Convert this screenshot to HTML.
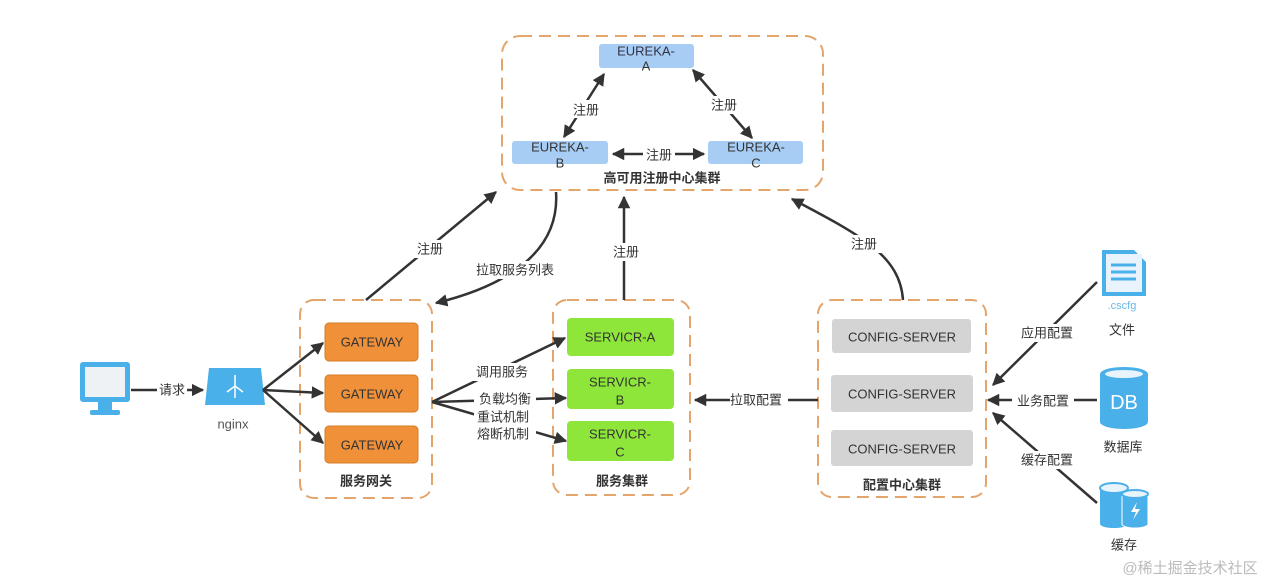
<!DOCTYPE html>
<html><head><meta charset="utf-8"><style>
html,body{margin:0;padding:0;background:#fff;}
svg{display:block;}
text{font-family:"Liberation Sans","Noto Sans CJK SC",sans-serif;fill:#333;}
.lbl{font-size:13px;text-anchor:middle;dominant-baseline:central;}
.b{font-weight:bold;}
</style></head><body>
<svg width="1269" height="584" viewBox="0 0 1269 584" xmlns="http://www.w3.org/2000/svg">
<defs>
<marker id="ah" viewBox="0 0 10 10" refX="9" refY="5" markerWidth="5" markerHeight="5" orient="auto-start-reverse"><path d="M0,0 L10,5 L0,10 z" fill="#333"/></marker>
</defs>
<g fill="none" stroke="#e3a56c" stroke-width="2" stroke-dasharray="12,7">
<rect x="502" y="36" width="321" height="154" rx="18"/>
<rect x="300" y="300" width="132" height="198" rx="14"/>
<rect x="553" y="300" width="137" height="195" rx="14"/>
<rect x="818" y="300" width="168" height="197" rx="14"/>
</g>
<!-- eureka nodes -->
<g fill="#a8cdf5">
<rect x="599" y="44" width="95" height="24" rx="3"/>
<rect x="512" y="141" width="96" height="23" rx="3"/>
<rect x="708" y="141" width="95" height="23" rx="3"/>
</g>
<g class="lbl" style="font-size:13px">
<text class="lbl" x="646" y="51" style="fill:#334">EUREKA-</text><text class="lbl" x="646" y="66">A</text>
<text class="lbl" x="560" y="147">EUREKA-</text><text class="lbl" x="560" y="163">B</text>
<text class="lbl" x="756" y="147">EUREKA-</text><text class="lbl" x="756" y="163">C</text>
</g>
<text class="lbl b" x="662" y="178">高可用注册中心集群</text>
<g stroke="#333" stroke-width="2.5" fill="none">
<line x1="604" y1="74" x2="564" y2="137" marker-start="url(#ah)" marker-end="url(#ah)"/>
<line x1="693" y1="70" x2="752" y2="138" marker-start="url(#ah)" marker-end="url(#ah)"/>
<line x1="613" y1="154" x2="704" y2="154" marker-start="url(#ah)" marker-end="url(#ah)"/>
</g>
<rect x="570" y="100" width="32" height="18" fill="#fff"/>
<rect x="708" y="96" width="32" height="18" fill="#fff"/>
<rect x="643" y="146" width="32" height="18" fill="#fff"/>
<text class="lbl" x="586" y="110">注册</text>
<text class="lbl" x="724" y="105">注册</text>
<text class="lbl" x="659" y="155">注册</text>
<!-- gateway nodes -->
<g fill="#f0913a" stroke="#d67b27">
<rect x="325" y="323" width="93" height="38" rx="4"/>
<rect x="325" y="375" width="93" height="37" rx="4"/>
<rect x="325" y="426" width="93" height="37" rx="4"/>
</g>
<text class="lbl" x="372" y="342">GATEWAY</text>
<text class="lbl" x="372" y="394">GATEWAY</text>
<text class="lbl" x="372" y="445">GATEWAY</text>
<text class="lbl b" x="366" y="481">服务网关</text>
<!-- services -->
<g fill="#8fe63a">
<rect x="567" y="318" width="107" height="38" rx="4"/>
<rect x="567" y="369" width="107" height="40" rx="4"/>
<rect x="567" y="421" width="107" height="40" rx="4"/>
</g>
<text class="lbl" x="620" y="337">SERVICR-A</text>
<text class="lbl" x="620" y="382">SERVICR-</text><text class="lbl" x="620" y="400">B</text>
<text class="lbl" x="620" y="434">SERVICR-</text><text class="lbl" x="620" y="452">C</text>
<text class="lbl b" x="622" y="481">服务集群</text>
<!-- config -->
<g fill="#d4d4d4">
<rect x="832" y="319" width="139" height="34" rx="3"/>
<rect x="831" y="375" width="142" height="37" rx="3"/>
<rect x="831" y="430" width="142" height="36" rx="3"/>
</g>
<text class="lbl" x="902" y="337">CONFIG-SERVER</text>
<text class="lbl" x="902" y="394">CONFIG-SERVER</text>
<text class="lbl" x="902" y="449">CONFIG-SERVER</text>
<text class="lbl b" x="902" y="485">配置中心集群</text>
<!-- monitor -->
<rect x="80" y="362" width="50" height="40" rx="3" fill="#4ab0ea"/>
<rect x="85" y="367" width="40" height="30" fill="#eef2f5"/>
<rect x="98" y="402" width="14" height="8" fill="#4ab0ea"/>
<rect x="90" y="410" width="30" height="5" rx="2" fill="#4ab0ea"/>
<!-- nginx -->
<path d="M209,368 L261,368 L265,405 L205,405 z" fill="#4ab0ea"/>
<g stroke="#fff" stroke-width="1.5" fill="none"><line x1="235" y1="375" x2="235" y2="398"/><path d="M235,386 L227,392 M235,386 L243,392"/></g>
<text class="lbl" x="233" y="424" style="fill:#555">nginx</text>
<!-- arrows lower -->
<g stroke="#333" stroke-width="2.5" fill="none" marker-end="url(#ah)">
<line x1="131" y1="390" x2="203" y2="390"/>
<line x1="263" y1="390" x2="323" y2="343"/>
<line x1="263" y1="390" x2="323" y2="393"/>
<line x1="263" y1="390" x2="323" y2="443"/>
<line x1="432" y1="402" x2="565" y2="338"/>
<line x1="432" y1="402" x2="566" y2="398"/>
<line x1="432" y1="402" x2="566" y2="441"/>
<line x1="818" y1="400" x2="695" y2="400"/>
<line x1="366" y1="300" x2="496" y2="192"/>
<path d="M556,192 C560,250 510,285 436,303"/>
<line x1="624" y1="300" x2="624" y2="197"/>
<path d="M903,300 C900,255 860,235 792,199"/>
<line x1="1097" y1="282" x2="993" y2="385"/>
<line x1="1097" y1="400" x2="988" y2="400"/>
<line x1="1097" y1="503" x2="993" y2="413"/>
</g>
<g fill="#fff">
<rect x="157" y="381" width="30" height="18"/>
<rect x="472" y="363" width="62" height="18"/>
<rect x="474" y="390" width="62" height="52"/>
<rect x="730" y="391" width="58" height="18"/>
<rect x="412" y="240" width="36" height="18"/>
<rect x="472" y="261" width="88" height="18"/>
<rect x="608" y="243" width="36" height="18"/>
<rect x="847" y="235" width="36" height="18"/>
<rect x="1016" y="324" width="62" height="18"/>
<rect x="1012" y="392" width="62" height="18"/>
<rect x="1016" y="451" width="62" height="18"/>
</g>
<text class="lbl" x="172" y="390">请求</text>
<text class="lbl" x="502" y="372">调用服务</text>
<text class="lbl" x="505" y="399">负载均衡</text>
<text class="lbl" x="503" y="417">重试机制</text>
<text class="lbl" x="503" y="434">熔断机制</text>
<text class="lbl" x="756" y="400">拉取配置</text>
<text class="lbl" x="430" y="249">注册</text>
<text class="lbl" x="515" y="270">拉取服务列表</text>
<text class="lbl" x="626" y="252">注册</text>
<text class="lbl" x="864" y="244">注册</text>
<text class="lbl" x="1047" y="333">应用配置</text>
<text class="lbl" x="1043" y="401">业务配置</text>
<text class="lbl" x="1047" y="460">缓存配置</text>
<!-- file icon -->
<path d="M1102,250 L1134,250 L1146,262 L1146,296 L1102,296 z" fill="#4ab0ea"/>
<rect x="1106" y="254" width="36" height="38" fill="#e8f3fb"/>
<g stroke="#4ab0ea" stroke-width="3"><line x1="1111" y1="265" x2="1136" y2="265"/><line x1="1111" y1="272" x2="1136" y2="272"/><line x1="1111" y1="279" x2="1136" y2="279"/></g>
<text x="1122" y="309" style="font-size:11px;fill:#6ab8e8" text-anchor="middle">.cscfg</text>
<text class="lbl" x="1122" y="330">文件</text>
<!-- DB -->
<path d="M1100,374 L1100,422 A24,7 0 0 0 1148,422 L1148,374 z" fill="#4ab0ea"/>
<ellipse cx="1124" cy="374" rx="24" ry="7" fill="#4ab0ea"/>
<ellipse cx="1124" cy="374" rx="19" ry="4" fill="#e8f3fb"/>
<text x="1124" y="409" text-anchor="middle" style="font-size:20px;fill:#fff">DB</text>
<text class="lbl" x="1123" y="447">数据库</text>
<!-- cache -->
<path d="M1100,488 L1100,524 A14,4 0 0 0 1128,524 L1128,488 z" fill="#4ab0ea"/>
<ellipse cx="1114" cy="488" rx="14" ry="5" fill="#e8f3fb" stroke="#4ab0ea" stroke-width="2"/>
<path d="M1122,494 L1122,524 A13,4 0 0 0 1148,524 L1148,494 z" fill="#4ab0ea" stroke="#fff"/>
<ellipse cx="1135" cy="494" rx="13" ry="4" fill="#e8f3fb" stroke="#4ab0ea" stroke-width="2"/>
<path d="M1137,502 L1131,512 L1136,512 L1133,520 L1140,509 L1135,509 z" fill="#fff"/>
<text class="lbl" x="1124" y="545">缓存</text>
<text x="1190" y="573" text-anchor="middle" style="font-size:15px;fill:#bbb">@稀土掘金技术社区</text>
</svg>
</body></html>
